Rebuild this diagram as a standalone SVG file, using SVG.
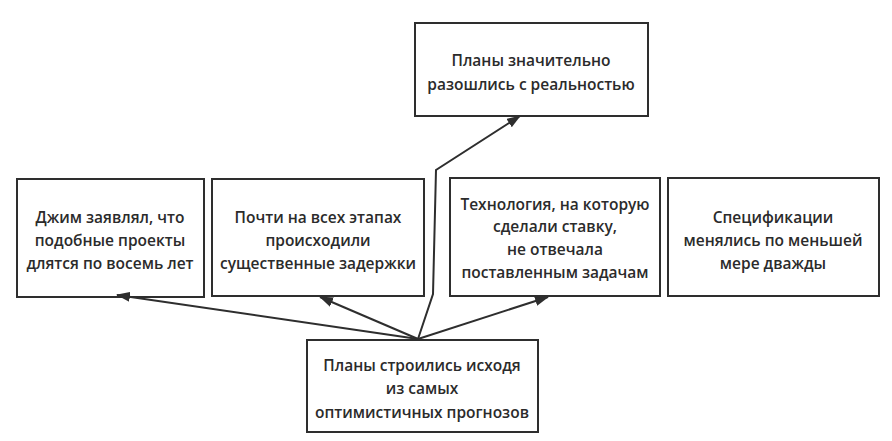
<svg xmlns="http://www.w3.org/2000/svg" width="892" height="441" viewBox="0 0 892 441">
<style>
.box{fill:#ffffff;stroke:#2e2e2e;stroke-width:2}
.t{font-family:"Open Sans","Noto Sans",sans-serif;font-size:15.5px;font-weight:600;fill:#2b2b2b;text-anchor:middle}
.c{fill:none;stroke:#2e2e2e;stroke-width:2}
</style>
<defs>
<marker id="ah" viewBox="0 0 14 10" refX="13" refY="5" markerWidth="14" markerHeight="10" markerUnits="userSpaceOnUse" orient="auto">
<path d="M0,0 L14,5 L0,10 Z" fill="#2e2e2e"/>
</marker>
</defs>
<rect width="892" height="441" fill="#ffffff"/>
<g id="n_top">
<rect class="box" x="415" y="23" width="233" height="93"/>
<text class="t" x="531" y="66">Планы значительно</text>
<text class="t" x="531" y="90">разошлись с реальностью</text>
</g>
<g id="n1">
<rect class="box" x="17" y="179" width="187" height="118"/>
<text class="t" x="110" y="223">Джим заявлял, что</text>
<text class="t" x="110" y="246">подобные проекты</text>
<text class="t" x="110" y="269">длятся по восемь лет</text>
</g>
<g id="n2">
<rect class="box" x="212" y="179" width="212" height="117"/>
<text class="t" x="318" y="223">Почти на всех этапах</text>
<text class="t" x="318" y="246">происходили</text>
<text class="t" x="318" y="269">существенные задержки</text>
</g>
<g id="n3">
<rect class="box" x="450" y="178" width="210" height="118"/>
<text class="t" x="555" y="210">Технология, на которую</text>
<text class="t" x="555" y="232">сделали ставку,</text>
<text class="t" x="555" y="255">не отвечала</text>
<text class="t" x="555" y="278">поставленным задачам</text>
</g>
<g id="n4">
<rect class="box" x="668" y="178" width="211" height="118"/>
<text class="t" x="773" y="223">Спецификации</text>
<text class="t" x="773" y="246">менялись по меньшей</text>
<text class="t" x="773" y="269">мере дважды</text>
</g>
<g id="n_bottom">
<rect class="box" x="307" y="340" width="231" height="92"/>
<text class="t" x="422" y="371">Планы строились исходя</text>
<text class="t" x="422" y="394">из самых</text>
<text class="t" x="422" y="418">оптимистичных прогнозов</text>
</g>
<g id="connectors">
<path class="c" d="M418,339 L117,295" marker-end="url(#ah)"/>
<path class="c" d="M418,339 L320,297" marker-end="url(#ah)"/>
<path class="c" d="M418,339 L548,297" marker-end="url(#ah)"/>
<path class="c" d="M418,339 L433,294 L436,170 L520,116" marker-end="url(#ah)"/>
</g>
</svg>
